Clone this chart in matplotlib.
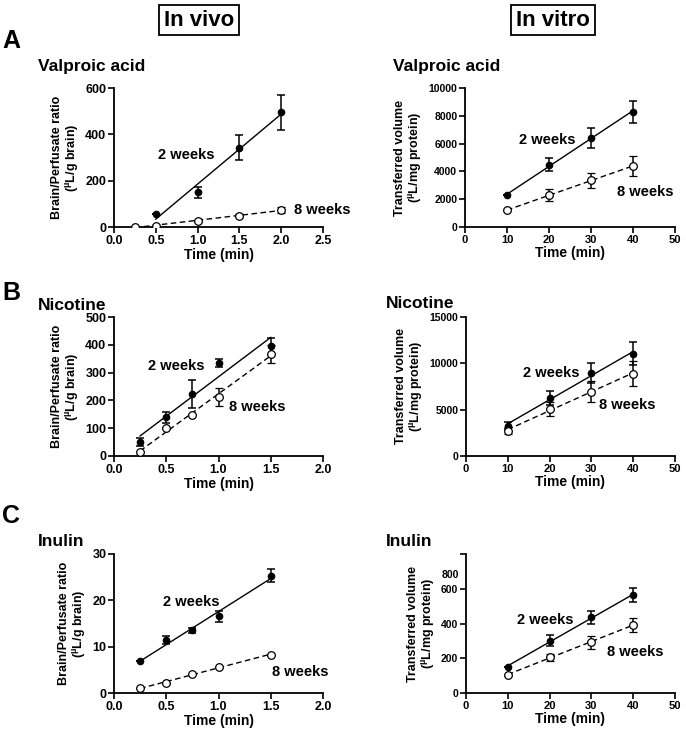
import numpy as np
import matplotlib
matplotlib.use("Agg")
import matplotlib.pyplot as plt
from matplotlib.ticker import FormatStrFormatter

plt.rcParams["font.family"] = ["Liberation Sans", "DejaVu Sans"]
plt.rcParams["font.weight"] = "bold"
plt.rcParams["axes.labelweight"] = "bold"
plt.rcParams["mathtext.fontset"] = "custom"
plt.rcParams["mathtext.rm"] = "Liberation Sans:bold"
plt.rcParams["mathtext.it"] = "Liberation Sans:bold"

# ---------------- data ----------------
# in vivo (time in min)
vpa_vivo_x2 = [0.5, 1.0, 1.5, 2.0]
vpa_vivo_y2 = [56, 149, 343, 495]
vpa_vivo_e2 = [0, 23, 52, 76]
vpa_vivo_x8 = [0.25, 0.5, 1.0, 1.5, 2.0]
vpa_vivo_y8 = [1, 6, 26, 49, 74]
vpa_vivo_e8 = [0, 3, 4, 5, 12]

nic_vivo_x = [0.25, 0.5, 0.75, 1.0, 1.5]
nic_vivo_y2 = [50, 139, 224, 334, 394]
nic_vivo_e2 = [13, 19, 50, 14, 31]
nic_vivo_y8 = [16, 101, 148, 213, 367]
nic_vivo_e8 = [0, 0, 0, 32, 31]

inu_vivo_x = [0.25, 0.5, 0.75, 1.0, 1.5]
inu_vivo_y2 = [6.8, 11.4, 13.5, 16.6, 25.3]
inu_vivo_e2 = [0, 0.8, 0.6, 1.2, 1.4]
inu_vivo_y8 = [1.0, 2.1, 4.2, 5.7, 8.2]
inu_vivo_e8 = [0, 0, 0, 0, 0]

# in vitro (time in min)
vitro_x = [10, 20, 30, 40]
vpa_vitro_y2 = [2270, 4470, 6410, 8300]
vpa_vitro_e2 = [0, 470, 730, 800]
vpa_vitro_y8 = [1200, 2300, 3350, 4380]
vpa_vitro_e8 = [0, 400, 570, 720]

nic_vitro_y2 = [3270, 6240, 8970, 11020]
nic_vitro_e2 = [400, 770, 1080, 1250]
nic_vitro_y8 = [2730, 5060, 6960, 8900]
nic_vitro_e8 = [350, 770, 1130, 1380]

inu_vitro_y2 = [149, 302, 436, 562]
inu_vitro_e2 = [0, 29, 38, 40]
inu_vitro_y8 = [105, 206, 292, 392]
inu_vitro_e8 = [0, 20, 38, 40]

VIVO_YLABEL = "Brain/Perfusate ratio\n($^{\\mu}$L/g brain)"
VITRO_YLABEL = "Transferred volume\n($^{\\mu}$L/mg protein)"

# ---------------- figure ----------------
fig = plt.figure(figsize=(6.86, 7.34), dpi=100)
W, H = 686, 734


def add_ax(x0, x1, ytop, ybot):
    return fig.add_axes([x0 / W, 1 - ybot / H, (x1 - x0) / W, (ybot - ytop) / H])


def draw(ax, x2, y2, e2, x8, y8, e8, xlim, xticks, ylim, yticks, ylabel,
         lab2, lab8, xfmt=None, xsize=9, ysize=9):
    # regression lines
    for xs, ys, ls in [(x2, y2, "-"), (x8, y8, "--")]:
        k, b = np.polyfit(xs, ys, 1)
        xx = np.array([min(xs), max(xs)])
        ax.plot(xx, k * xx + b, ls, color="black", lw=1.0, zorder=2,
                dashes=(4, 2.5) if ls == "--" else (None, None))
    ax.errorbar(x2, y2, yerr=e2, fmt="o", ms=4.5, mfc="black", mec="black",
                ecolor="black", elinewidth=1.1, capsize=2.8, capthick=1.1, zorder=3)
    ax.errorbar(x8, y8, yerr=e8, fmt="o", ms=5.5, mfc="white", mec="black",
                mew=0.9, ecolor="black", elinewidth=1.1, capsize=2.8,
                capthick=1.1, zorder=4)
    ax.set_xlim(*xlim)
    ax.set_ylim(*ylim)
    ax.set_xticks(xticks)
    ax.set_yticks(yticks)
    if xfmt:
        ax.xaxis.set_major_formatter(FormatStrFormatter(xfmt))
    for s in ["top", "right"]:
        ax.spines[s].set_visible(False)
    for s in ["left", "bottom"]:
        ax.spines[s].set_linewidth(1.3)
    ax.tick_params(direction="out", length=4, width=1.2, pad=1.5)
    ax.tick_params(axis="x", labelsize=xsize)
    ax.tick_params(axis="y", labelsize=ysize)
    for t in ax.get_xticklabels() + ax.get_yticklabels():
        t.set_fontweight("bold")
    ax.set_xlabel("Time (min)", fontsize=10, fontweight="bold", labelpad=1)
    ax.set_ylabel(ylabel, fontsize=9, fontweight="bold", labelpad=3,
                  linespacing=1.1)
    ax.text(lab2[0], lab2[1], "2 weeks", fontsize=10.5, fontweight="bold",
            va="center", ha="left", clip_on=False)
    ax.text(lab8[0], lab8[1], "8 weeks", fontsize=10.5, fontweight="bold",
            va="center", ha="left", clip_on=False)


# A
axA1 = add_ax(114, 323, 88, 227)
draw(axA1, vpa_vivo_x2, vpa_vivo_y2, vpa_vivo_e2, vpa_vivo_x8, vpa_vivo_y8,
     vpa_vivo_e8, (0, 2.5), [0, 0.5, 1.0, 1.5, 2.0, 2.5], (0, 600),
     [0, 200, 400, 600], VIVO_YLABEL, (0.53, 312), (2.15, 73), "%.1f")
axA2 = add_ax(465, 675, 88, 227)
draw(axA2, vitro_x, vpa_vitro_y2, vpa_vitro_e2, vitro_x, vpa_vitro_y8,
     vpa_vitro_e8, (0, 50), [0, 10, 20, 30, 40, 50], (0, 10000),
     [0, 2000, 4000, 6000, 8000, 10000], VITRO_YLABEL, (12.9, 6290),
     (36.2, 2500), xsize=8, ysize=7.5)

# B
axB1 = add_ax(114, 323, 317, 456)
draw(axB1, nic_vivo_x, nic_vivo_y2, nic_vivo_e2, nic_vivo_x, nic_vivo_y8,
     nic_vivo_e8, (0, 2.0), [0, 0.5, 1.0, 1.5, 2.0], (0, 500),
     [0, 100, 200, 300, 400, 500], VIVO_YLABEL, (0.33, 324), (1.10, 176), "%.1f")
axB2 = add_ax(466, 675, 317, 456)
draw(axB2, vitro_x, nic_vitro_y2, nic_vitro_e2, vitro_x, nic_vitro_y8,
     nic_vitro_e8, (0, 50), [0, 10, 20, 30, 40, 50], (0, 15000),
     [0, 5000, 10000, 15000], VITRO_YLABEL, (13.6, 8940), (31.8, 5530),
     xsize=8, ysize=7.5)

# C
axC1 = add_ax(114, 323, 554, 693)
draw(axC1, inu_vivo_x, inu_vivo_y2, inu_vivo_e2, inu_vivo_x, inu_vivo_y8,
     inu_vivo_e8, (0, 2.0), [0, 0.5, 1.0, 1.5, 2.0], (0, 30),
     [0, 10, 20, 30], VIVO_YLABEL, (0.47, 19.6), (1.51, 4.5), "%.1f")
axC2 = add_ax(466, 675, 554, 693)
draw(axC2, vitro_x, inu_vitro_y2, inu_vitro_e2, vitro_x, inu_vitro_y8,
     inu_vitro_e8, (0, 50), [0, 10, 20, 30, 40, 50], (0, 800),
     [0, 200, 400, 600, 800], VITRO_YLABEL, (12.2, 420), (33.7, 236),
     xsize=8, ysize=7.5)
# the original shows the "800" label drawn just above 600
axC2.set_yticklabels(["0", "200", "400", "600", ""], fontweight="bold")
axC2.text(-0.035, 680, "800", transform=axC2.get_yaxis_transform(),
          fontsize=7.5, fontweight="bold", ha="right", va="center")

# panel titles
box = dict(boxstyle="square,pad=0.22", fc="white", ec="black", lw=1.3)
fig.text(199 / W, 1 - 20 / H, "In vivo", fontsize=16, fontweight="bold",
         ha="center", va="center", bbox=box)
fig.text(553 / W, 1 - 20 / H, "In vitro", fontsize=16, fontweight="bold",
         ha="center", va="center", bbox=box)

for lab, y in [("A", 41), ("B", 293), ("C", 516)]:
    fig.text(2 / W, 1 - y / H, lab, fontsize=18, fontweight="bold",
             ha="left", va="center")

for name, x, y in [("Valproic acid", 38, 66), ("Valproic acid", 393, 66),
                   ("Nicotine", 38, 305), ("Nicotine", 386, 304),
                   ("Inulin", 38, 541), ("Inulin", 386, 541)]:
    fig.text(x / W, 1 - y / H, name, fontsize=12.5, fontweight="bold",
             ha="left", va="center")

fig.savefig("out.png", dpi=100)
